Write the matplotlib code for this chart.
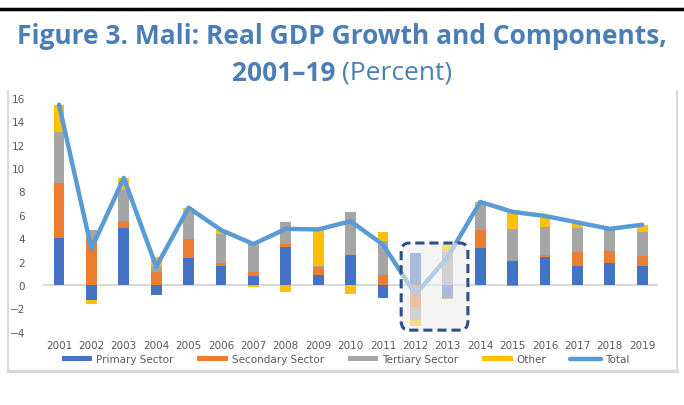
import matplotlib.pyplot as plt
import numpy as np
from matplotlib.patches import FancyBboxPatch
from matplotlib.lines import Line2D

years = [str(y) for y in range(2001, 2020)]

# contributions to growth, percentage points
primary = [4.0, -1.3, 4.87, -0.85, 2.3, 1.62, 0.77, 3.28, 0.85, 2.6,
           -1.08, 2.73, -1.14, 3.13, 2.08, 2.42, 1.65, 1.9, 1.65]
secondary = [4.75, 3.9, 0.6, 1.08, 1.6, 0.28, 0.31, 0.25, 0.72, 0.0,
             0.88, -1.85, -0.08, 1.57, -0.06, 0.14, 1.2, 0.98, 0.85]
tertiary = [4.35, 0.8, 2.68, 0.57, 2.37, 2.46, 2.55, 1.83, 0.1, 3.6,
            2.9, -1.14, 2.8, 2.14, 2.68, 2.43, 2.05, 1.82, 2.06]
other = [2.3, -0.3, 1.0, 0.77, 0.28, 0.37, -0.15, -0.57, 3.05, -0.75,
         0.71, -0.54, 0.7, 0.23, 1.5, 0.74, 0.37, 0.0, 0.6]
total = [15.4, 3.1, 9.15, 1.57, 6.6, 4.7, 3.5, 4.8, 4.75, 5.45,
         3.45, -0.8, 2.4, 7.1, 6.25, 5.9, 5.35, 4.8, 5.15]

series = [("Primary Sector", primary, "#4472C4"),
          ("Secondary Sector", secondary, "#ED7D31"),
          ("Tertiary Sector", tertiary, "#A5A5A5"),
          ("Other", other, "#FFC000")]

txt = "#595959"
fig = plt.figure(figsize=(6.84, 4.06), dpi=100)
ax = fig.add_axes([0.0626, 0.180, 0.900, 0.577])

x = np.arange(len(years))
pos_base = np.zeros(len(years))
neg_base = np.zeros(len(years))
handles = []
for name, vals, col in series:
    v = np.array(vals)
    base = np.where(v >= 0, pos_base, neg_base)
    b = ax.bar(x, v, width=0.33, bottom=base, color=col, label=name, zorder=2)
    handles.append(b)
    pos_base += np.where(v >= 0, v, 0)
    neg_base += np.where(v < 0, v, 0)

ln, = ax.plot(x, total, color="#5B9BD5", lw=3.2, zorder=3, label="Total",
              solid_capstyle="round")
handles.append(ln)

ax.axhline(0, color="#D9D9D9", lw=1.5, zorder=1)

# highlighted 2012-2013 box
box = FancyBboxPatch((10.56, -3.85), 2.06, 7.44,
                     boxstyle="round,pad=0,rounding_size=0.25",
                     mutation_aspect=3.0,
                     facecolor="#EDEDED", alpha=0.6, edgecolor="none", zorder=4)
ax.add_patch(box)
edge = FancyBboxPatch((10.56, -3.85), 2.06, 7.44,
                      boxstyle="round,pad=0,rounding_size=0.25",
                      mutation_aspect=3.0,
                      facecolor="none", edgecolor="#2F4E8C", lw=2.2,
                      linestyle=(0, (3, 1.6)), zorder=5)
ax.add_patch(edge)

ax.set_xlim(-0.5, len(years) - 0.5)
ax.set_ylim(-4, 16)
ax.set_yticks(range(-4, 17, 2))
ax.set_xticks(x)
ax.set_xticklabels(years)
for s in ax.spines.values():
    s.set_visible(False)
ax.tick_params(length=0, colors=txt, labelsize=7.5)
ax.tick_params(axis="y", pad=13)
ax.tick_params(axis="x", pad=6)

leg = fig.legend(handles=handles, labels=[h.get_label() for h in handles],
                 loc="center", bbox_to_anchor=(0.505, 0.113), ncol=5,
                 frameon=False, fontsize=7.5, labelcolor=txt,
                 handlelength=2.9, handleheight=0.45, handletextpad=0.4,
                 columnspacing=2.3)

# frame around the chart
fc = "#D9D9D9"
fig.add_artist(Line2D([0.0117, 0.0117], [0.084, 0.773], color=fc, lw=1.5))
fig.add_artist(Line2D([0.990, 0.990], [0.084, 0.773], color=fc, lw=1.5))
fig.add_artist(Line2D([0.0117, 0.990], [0.084, 0.084], color=fc, lw=2.5))

# rule above the title
fig.add_artist(Line2D([0, 1], [0.975, 0.975], color="black", lw=2.5))

tc = "#4A7EB4"
fig.text(0.5, 0.910, "Figure 3. Mali: Real GDP Growth and Components,",
         ha="center", va="center", fontsize=19, fontweight="bold",
         color=tc, family="Open Sans")
fig.text(0.5, 0.820, "2001\u201319 ", ha="right", va="center",
         fontsize=19, fontweight="bold", color=tc, family="Open Sans")
fig.text(0.5, 0.820, "(Percent)", ha="left", va="center",
         fontsize=19, color=tc, family="Open Sans")

fig.savefig("out.png", dpi=100)
